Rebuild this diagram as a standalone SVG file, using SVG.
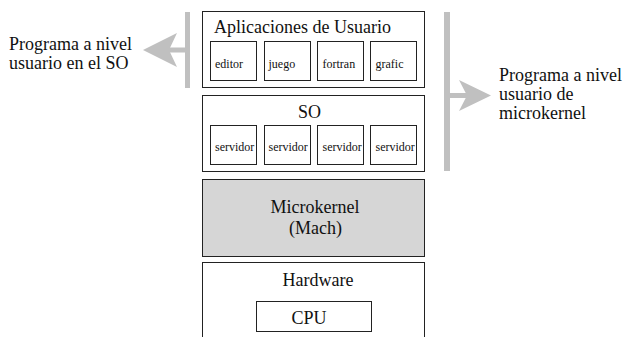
<svg xmlns="http://www.w3.org/2000/svg" width="623" height="337" viewBox="0 0 623 337">
  <style>
    .box { fill: #ffffff; stroke: #222222; stroke-width: 1; }
    .kernel { fill: #d6d6d6; stroke: #222222; stroke-width: 1; }
    text { font-family: 'Liberation Serif', 'Tinos', 'Times New Roman', 'DejaVu Serif', serif; fill: #111111; }
    .big { font-size: 18px; }
    .small { font-size: 12px; }
    .mid { text-anchor: middle; }
    .rail { fill: #c0c0c0; }
  </style>

  <rect width="623" height="337" fill="#ffffff"/>

  <!-- side rails with their arrows -->
  <g id="connectors">
    <g id="arrow-so">
      <rect class="rail" x="185" y="12" width="5" height="76"/>
      <rect class="rail" x="168" y="47.5" width="18" height="5"/>
      <polygon class="rail" points="143,50 177,33 169,50 177,67"/>
    </g>
    <g id="arrow-microkernel">
      <rect class="rail" x="444" y="12" width="6" height="159"/>
      <rect class="rail" x="449" y="93" width="19" height="5"/>
      <polygon class="rail" points="491,95.5 459,80 467,95.5 459,111"/>
    </g>
  </g>

  <!-- side labels -->
  <g id="label-so" font-family="Liberation Serif, serif">
    <text class="big" x="9" y="50">Programa a nivel</text>
    <text class="big" x="9" y="69">usuario en el SO</text>
  </g>
  <g id="label-microkernel">
    <text class="big" x="499" y="81">Programa a nivel</text>
    <text class="big" x="499" y="100">usuario de</text>
    <text class="big" x="499" y="119">microkernel</text>
  </g>

  <!-- user applications layer -->
  <g id="aplicaciones">
    <rect class="box" x="202.5" y="11.5" width="222" height="76"/>
    <text class="big" x="214" y="33">Aplicaciones de Usuario</text>
    <g id="app-editor">
      <rect class="box" x="210.5" y="41.5" width="46" height="39"/>
      <text class="small" x="215" y="67.5">editor</text>
    </g>
    <g id="app-juego">
      <rect class="box" x="264.5" y="41.5" width="46" height="39"/>
      <text class="small" x="268.5" y="67.5">juego</text>
    </g>
    <g id="app-fortran">
      <rect class="box" x="317.5" y="41.5" width="46" height="39"/>
      <text class="small" x="322.5" y="67.5">fortran</text>
    </g>
    <g id="app-grafic">
      <rect class="box" x="370.5" y="41.5" width="46" height="39"/>
      <text class="small" x="375.5" y="67.5">grafic</text>
    </g>
  </g>

  <!-- operating system servers layer -->
  <g id="so">
    <rect class="box" x="202.5" y="95.5" width="222" height="76"/>
    <text class="big mid" x="309.5" y="118">SO</text>
    <g id="srv-1">
      <rect class="box" x="210.5" y="125.5" width="46" height="39"/>
      <text class="small" x="215" y="151">servidor</text>
    </g>
    <g id="srv-2">
      <rect class="box" x="264.5" y="125.5" width="46" height="39"/>
      <text class="small" x="268.5" y="151">servidor</text>
    </g>
    <g id="srv-3">
      <rect class="box" x="317.5" y="125.5" width="46" height="39"/>
      <text class="small" x="322.5" y="151">servidor</text>
    </g>
    <g id="srv-4">
      <rect class="box" x="370.5" y="125.5" width="46" height="39"/>
      <text class="small" x="375.5" y="151">servidor</text>
    </g>
  </g>

  <!-- microkernel layer -->
  <g id="microkernel">
    <rect class="kernel" x="202.5" y="179.5" width="222" height="77"/>
    <text class="big mid" x="315" y="213">Microkernel</text>
    <text class="big mid" x="315.5" y="233.5">(Mach)</text>
  </g>

  <!-- hardware layer -->
  <g id="hardware">
    <rect class="box" x="202.5" y="262.5" width="222" height="80"/>
    <text class="big mid" x="318" y="286">Hardware</text>
    <g id="cpu">
      <rect class="box" x="256.5" y="301.5" width="115" height="30"/>
      <text class="big mid" x="309" y="323.5">CPU</text>
    </g>
  </g>
</svg>
